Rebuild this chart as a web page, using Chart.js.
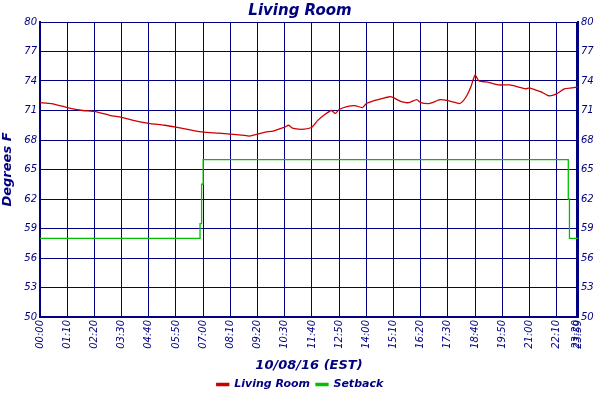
<!DOCTYPE html>
<html><head><meta charset="utf-8">
<script src="https://cdn.jsdelivr.net/npm/chart.js@4/dist/chart.umd.min.js"></script>
<style>html,body{margin:0;background:#fff}#wrap{width:600px;height:400px}</style>
</head><body><div id="wrap"><canvas id="c"></canvas></div>
<script>
// minutes since midnight -> temp
var roomTimes = [0,30,70,110,140,180,210,240,280,320,350,390,420,460,490,520,540,560,580,600,615,630,640,650,665,680,700,715,730,750,760,770,790,810,830,840,860,880,900,910,930,950,970,980,1000,1010,1030,1050,1070,1080,1090,1100,1110,1120,1130,1150,1180,1210,1230,1250,1260,1275,1290,1310,1330,1350,1370,1385];
var roomTemps = [71.8,71.7,71.3,71.0,70.9,70.5,70.3,70.0,69.7,69.5,69.3,69.0,68.8,68.7,68.6,68.5,68.4,68.6,68.8,68.9,69.1,69.3,69.5,69.2,69.1,69.1,69.3,70.0,70.5,71.0,70.7,71.1,71.4,71.5,71.3,71.7,72.0,72.2,72.4,72.3,71.9,71.8,72.1,71.8,71.7,71.8,72.1,72.0,71.8,71.7,72.0,72.6,73.5,74.6,74.0,73.9,73.6,73.6,73.4,73.2,73.3,73.1,72.9,72.5,72.7,73.2,73.3,73.4,73.4,73.2];
var setTimes = [0,412,412,416,416,420,420,1360,1360,1363,1363,1385];
var setTemps = [58,58,59.5,59.5,63.5,63.5,66,66,62,62,58,58];
var yTicks = [50,53,56,59,62,65,68,71,74,77,80];
var xTickVals = [0,70,140,210,280,350,420,490,560,630,700,770,840,910,980,1050,1120,1190,1260,1330,1381,1385];
var xTickLabels = ['00:00','01:10','02:20','03:30','04:40','05:50','07:00','08:10','09:20','10:30','11:40','12:50','14:00','15:10','16:20','17:30','18:40','19:50','21:00','22:10','23:20','23:59'];
var navy = '#000080';

function xs(ts, vs){ return ts.map(function(t,i){ return {x:t, y:vs[i]}; }); }
var font = {family:'DejaVu Sans', style:'italic', size:10};
function yAx(pos, w){
  return { position:pos, min:50, max:80,
    afterBuildTicks:function(a){ a.ticks = yTicks.map(function(v){return {value:v};}); },
    afterFit:function(a){ a.width = w; },
    ticks:{color:navy, font:font, padding:3},
    grid:{color:navy, lineWidth:1, drawTicks:false},
    border:{color:navy, width:2},
    title:{display:pos==='left', text:'Degrees F', color:navy, font:{family:'DejaVu Sans', style:'italic', weight:'bold', size:13}, padding:0}
  };
}
new Chart(document.getElementById('c'), {
  type:'line',
  data:{ datasets:[
    {label:'Living Room', data:xs(roomTimes, roomTemps), borderColor:'#cc0000', backgroundColor:'#cc0000', borderWidth:1.3, pointRadius:0, tension:0.2},
    {label:'Setback', data:xs(setTimes, setTemps), borderColor:'#00c000', backgroundColor:'#00c000', borderWidth:1.3, pointRadius:0}
  ]},
  options:{
    animation:false, responsive:true, maintainAspectRatio:false,
    layout:{padding:{top:2, right:0, left:0, bottom:0}},
    plugins:{
      title:{display:true, text:'Living Room', color:navy, font:{family:'DejaVu Sans', style:'italic', weight:'bold', size:15}, padding:{top:0, bottom:2}},
      legend:{position:'bottom', labels:{color:navy, boxWidth:12, boxHeight:2, padding:6, font:{family:'DejaVu Sans', style:'italic', weight:'bold', size:11}}},
      tooltip:{enabled:false}
    },
    scales:{
      x:{ type:'linear', min:0, max:1385,
        afterBuildTicks:function(a){ a.ticks = xTickVals.map(function(v){return {value:v};}); },
        afterFit:function(a){ a.height = 56; },
        ticks:{color:navy, font:font, maxRotation:90, minRotation:90, autoSkip:false, padding:3,
          callback:function(v){ var i = xTickVals.indexOf(v); return i < 0 ? '' : xTickLabels[i]; }},
        grid:{color:navy, lineWidth:1, drawTicks:false},
        border:{color:navy, width:2},
        title:{display:true, text:'10/08/16 (EST)', color:navy, font:{family:'DejaVu Sans', style:'italic', weight:'bold', size:13}, padding:{top:0, bottom:0}}
      },
      y:yAx('left', 40),
      y2:yAx('right', 22)
    }
  }
});
</script></body></html>
